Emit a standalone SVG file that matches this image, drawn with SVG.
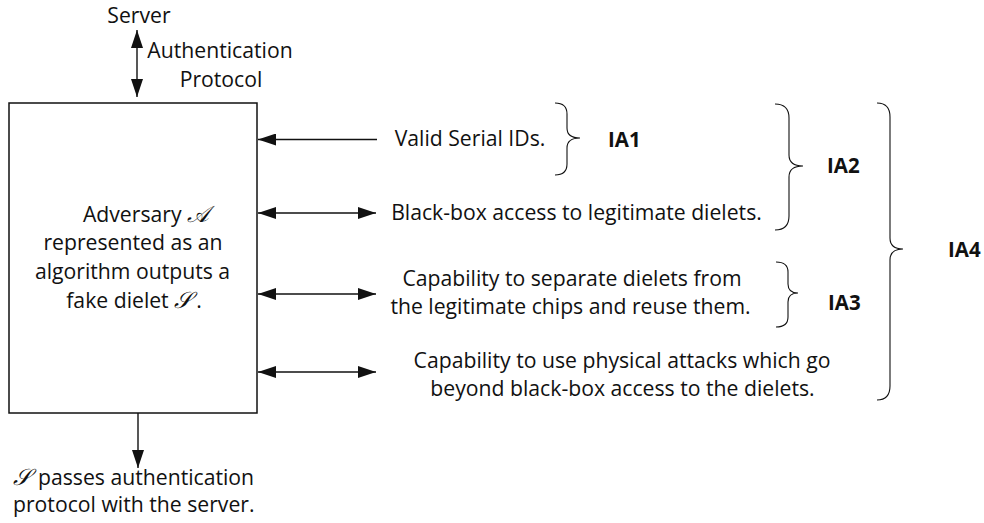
<svg xmlns="http://www.w3.org/2000/svg" width="984" height="523" viewBox="0 0 984 523">
<style>
  text { font-family: "Open Sans", "Liberation Sans", sans-serif; font-size: 21.2px; fill: #111; }
  .c { text-anchor: middle; }
  .b { font-weight: bold; font-size: 20.5px; }
  .m { font-family: "DejaVu Serif", "Liberation Serif", serif; font-style: italic; font-size: 23px; }
  .ln { stroke: #111; stroke-width: 1.4; fill: none; }
  .br { stroke: #111; stroke-width: 1.1; fill: none; }
</style>
<defs>
  <marker id="ah" markerUnits="userSpaceOnUse" markerWidth="18" markerHeight="12" refX="18" refY="6" orient="auto-start-reverse">
    <path d="M0,0 L18,6 L0,12 z" fill="#111"/>
  </marker>
</defs>
<rect width="984" height="523" fill="#fff"/>

<g id="server">
  <text class="c" x="139" y="22.5">Server</text>
</g>
<g id="auth-label">
  <text class="c" x="220" y="58">Authentication</text>
  <text class="c" x="221" y="87">Protocol</text>
</g>

<g id="adversary">
  <rect x="9" y="103" width="248" height="310" fill="none" stroke="#111" stroke-width="1.5"/>
  <text class="c" x="146" y="222">Adversary <tspan class="m">𝒜</tspan></text>
  <text class="c" x="133" y="250">represented as an</text>
  <text class="c" x="132.5" y="279">algorithm outputs a</text>
  <text class="c" x="134" y="308">fake dielet <tspan class="m">𝒮</tspan><tspan dx="4">.</tspan></text>
</g>

<g id="output">
  <text x="13" y="485"><tspan class="m">𝒮</tspan><tspan dx="7">passes authentication</tspan></text>
  <text x="13" y="512">protocol with the server.</text>
</g>

<g id="cap1"><text class="c" x="470" y="146">Valid Serial IDs.</text></g>
<g id="cap2"><text class="c" x="576.5" y="220">Black-box access to legitimate dielets.</text></g>
<g id="cap3">
  <text class="c" x="572" y="286">Capability to separate dielets from</text>
  <text class="c" x="570.5" y="314">the legitimate chips and reuse them.</text>
</g>
<g id="cap4">
  <text class="c" x="622" y="368">Capability to use physical attacks which go</text>
  <text class="c" x="622.5" y="396">beyond black-box access to the dielets.</text>
</g>

<g id="braces">
  <path class="br" d="M555,103 Q567,103 567,114 L567,128 Q567,138 580,138 Q567,138 567,148 L567,164 Q567,175 555,175"/>
  <path class="br" d="M775,104 Q789,104 789,118 L789,155 Q789,166 803,166 Q789,166 789,177 L789,216 Q789,230 775,230"/>
  <path class="br" d="M776,262 Q788,262 788,272 L788,284 Q788,293 798,293 Q788,293 788,302 L788,317 Q788,327 776,327"/>
  <path class="br" d="M877,103 Q890,103 890,117 L890,238 Q890,249 903,249 Q890,249 890,260 L890,386 Q890,400 877,400"/>
  <text class="b" x="608" y="147">IA1</text>
  <text class="b" x="827" y="173">IA2</text>
  <text class="b" x="828" y="310">IA3</text>
  <text class="b" x="948" y="257">IA4</text>
</g>

<g id="connectors">
  <line class="ln" x1="137" y1="30" x2="137" y2="97" marker-start="url(#ah)" marker-end="url(#ah)"/>
  <line class="ln" x1="377" y1="139.5" x2="258" y2="139.5" marker-end="url(#ah)"/>
  <line class="ln" x1="258" y1="213" x2="376" y2="213" marker-start="url(#ah)" marker-end="url(#ah)"/>
  <line class="ln" x1="258" y1="294" x2="376" y2="294" marker-start="url(#ah)" marker-end="url(#ah)"/>
  <line class="ln" x1="258" y1="372" x2="376" y2="372" marker-start="url(#ah)" marker-end="url(#ah)"/>
  <line class="ln" x1="138" y1="413" x2="138" y2="468" marker-end="url(#ah)"/>
</g>
</svg>
